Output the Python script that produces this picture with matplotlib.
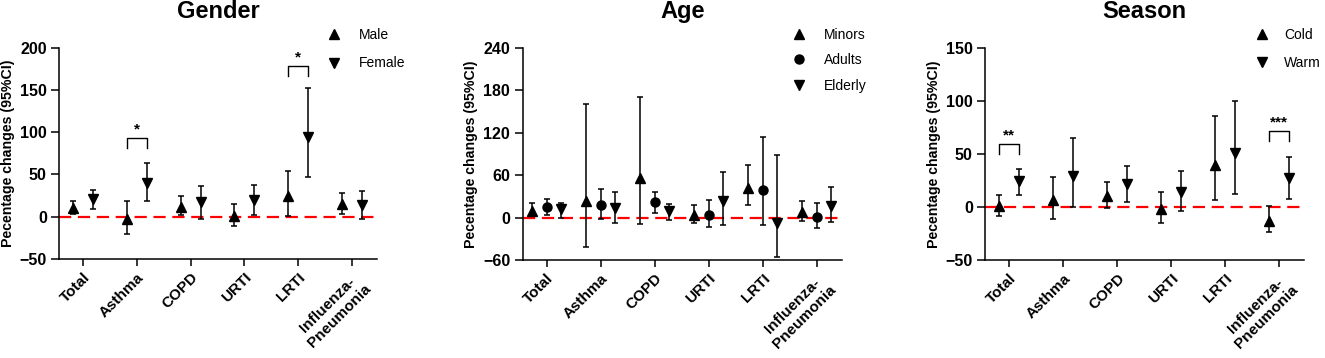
import matplotlib; matplotlib.use("Agg")
import matplotlib.pyplot as plt
import numpy as np

plt.rcParams.update({"font.family": ["Liberation Sans", "DejaVu Sans"], "font.weight": "bold",
                     "axes.spines.top": False, "axes.spines.right": False})

categories = ["Total", "Asthma", "COPD", "URTI", "LRTI", "Influenza-\nPneumonia"]

# Gender
male = [10, -3, 12, 1, 24, 15]
male_lo = [3.5, -20, 2, -11, 1, 3]
male_hi = [18.5, 19, 24, 15, 54, 28]
female = [21, 40, 17, 20, 94, 14]
female_lo = [9.5, 18.5, -3, 2, 47, -3]
female_hi = [32, 63, 36, 37, 152, 31]
gender_sig = [(1, 81, 93, "*"), (4, 167, 178, "*")]

# Age
minors = [10, 23, 56, 4, 42, 7.5]
minors_lo = [2, -41, -9, -7.5, 18, -4]
minors_hi = [21, 160, 170, 18.5, 74, 23.5]
adults = [15, 17.5, 22, 4, 39, 1]
adults_lo = [4, -1.5, 7, -13, -10, -15]
adults_hi = [27, 40.5, 37, 25, 114, 21]
elderly = [13, 14, 9.5, 23, -7.5, 17]
elderly_lo = [0, -8, -3, -10, -55, -6.5]
elderly_hi = [21, 37, 19, 64, 88, 43.5]

# Season
cold = [1, 6.5, 10.5, -2, 40, -13]
cold_lo = [-8, -11, -1, -15, 6.5, -23.5]
cold_hi = [11, 28.5, 24, 14, 86, 1]
warm = [25, 29.5, 22, 14.5, 51, 27.5]
warm_lo = [11.5, 0, 4.5, -4, 12.5, 8]
warm_hi = [36, 65.5, 39, 34, 100, 47]
season_sig = [(0, 50, 59.5, "**"), (5, 62.5, 71.5, "***")]


def panel(ax, title, series, offset, ylim, yticks, sig=(), legend_sp=1.0, textpad=0.75):
    x = np.arange(len(categories))
    n = len(series)
    handles, labels = [], []
    for i, (lab, marker, y, lo, hi) in enumerate(series):
        xs = x + (i - (n - 1) / 2) * offset
        y, lo, hi = map(np.asarray, (y, lo, hi))
        eb = ax.errorbar(xs, y, yerr=[y - lo, hi - y], fmt=marker, color="black", ms=6.5,
                         elinewidth=1.1, capsize=2.4, capthick=1.1, zorder=3)
        handles.append(eb[0])
        labels.append(lab)
    ax.axhline(0, color="red", ls=(0, (5.5, 3)), lw=1.6, zorder=2)
    for ci, ylow, ytop, txt in sig:
        x0, x1 = ci - offset / 2, ci + offset / 2
        ax.plot([x0, x0, x1, x1], [ylow, ytop, ytop, ylow], color="black", lw=1)
        ax.annotate(txt, ((x0 + x1) / 2, ytop), xytext=(0, 1), textcoords="offset points",
                    ha="center", va="bottom", fontsize=11)
    ax.set_xlim(-0.44, len(categories) - 1 + 0.46)
    ax.set_ylim(*ylim)
    ax.set_yticks(yticks)
    ax.set_xticks(x)
    ax.set_xticklabels(categories, rotation=45, ha="right", rotation_mode="anchor",
                       multialignment="center", fontsize=11, fontweight="bold")
    ax.tick_params(axis="y", labelsize=11.5, length=5.5, width=1.1)
    ax.tick_params(axis="x", length=5, width=1.1, pad=3)
    for s in ("left", "bottom"):
        ax.spines[s].set_linewidth(1.1)
    ax.set_ylabel("Pecentage changes (95%CI)", fontsize=10.2, fontweight="bold")
    ax.yaxis.set_label_coords(-0.14, 0.5)
    ax.text(0.5, 1.139, title, transform=ax.transAxes, ha="center", va="baseline",
            fontsize=17, fontweight="bold")
    ax.legend(handles, labels, loc="upper left", bbox_to_anchor=(0.823, 1.093), frameon=False,
              borderpad=0, borderaxespad=0, handletextpad=textpad, labelspacing=legend_sp,
              prop={"size": 10, "weight": "normal"}, handlelength=2)


fig = plt.figure(figsize=(13.25, 3.58), dpi=100)
ax1 = fig.add_axes([0.0448, 0.2765, 0.2395, 0.5903])
ax2 = fig.add_axes([0.3945, 0.2729, 0.2408, 0.5939])
ax3 = fig.add_axes([0.7436, 0.2729, 0.2408, 0.5939])

panel(ax1, "Gender", [("Male", "^", male, male_lo, male_hi),
                      ("Female", "v", female, female_lo, female_hi)],
      0.37, (-50, 200), range(-50, 201, 50), gender_sig, 1.04)
panel(ax2, "Age", [("Minors", "^", minors, minors_lo, minors_hi),
                   ("Adults", "o", adults, adults_lo, adults_hi),
                   ("Elderly", "v", elderly, elderly_lo, elderly_hi)],
      0.27, (-60, 240), range(-60, 241, 60), (), 0.82)
panel(ax3, "Season", [("Cold", "^", cold, cold_lo, cold_hi),
                      ("Warm", "v", warm, warm_lo, warm_hi)],
      0.37, (-50, 150), range(-50, 151, 50), season_sig, 1.04, 0.6)

fig.savefig("out.png", dpi=100)
